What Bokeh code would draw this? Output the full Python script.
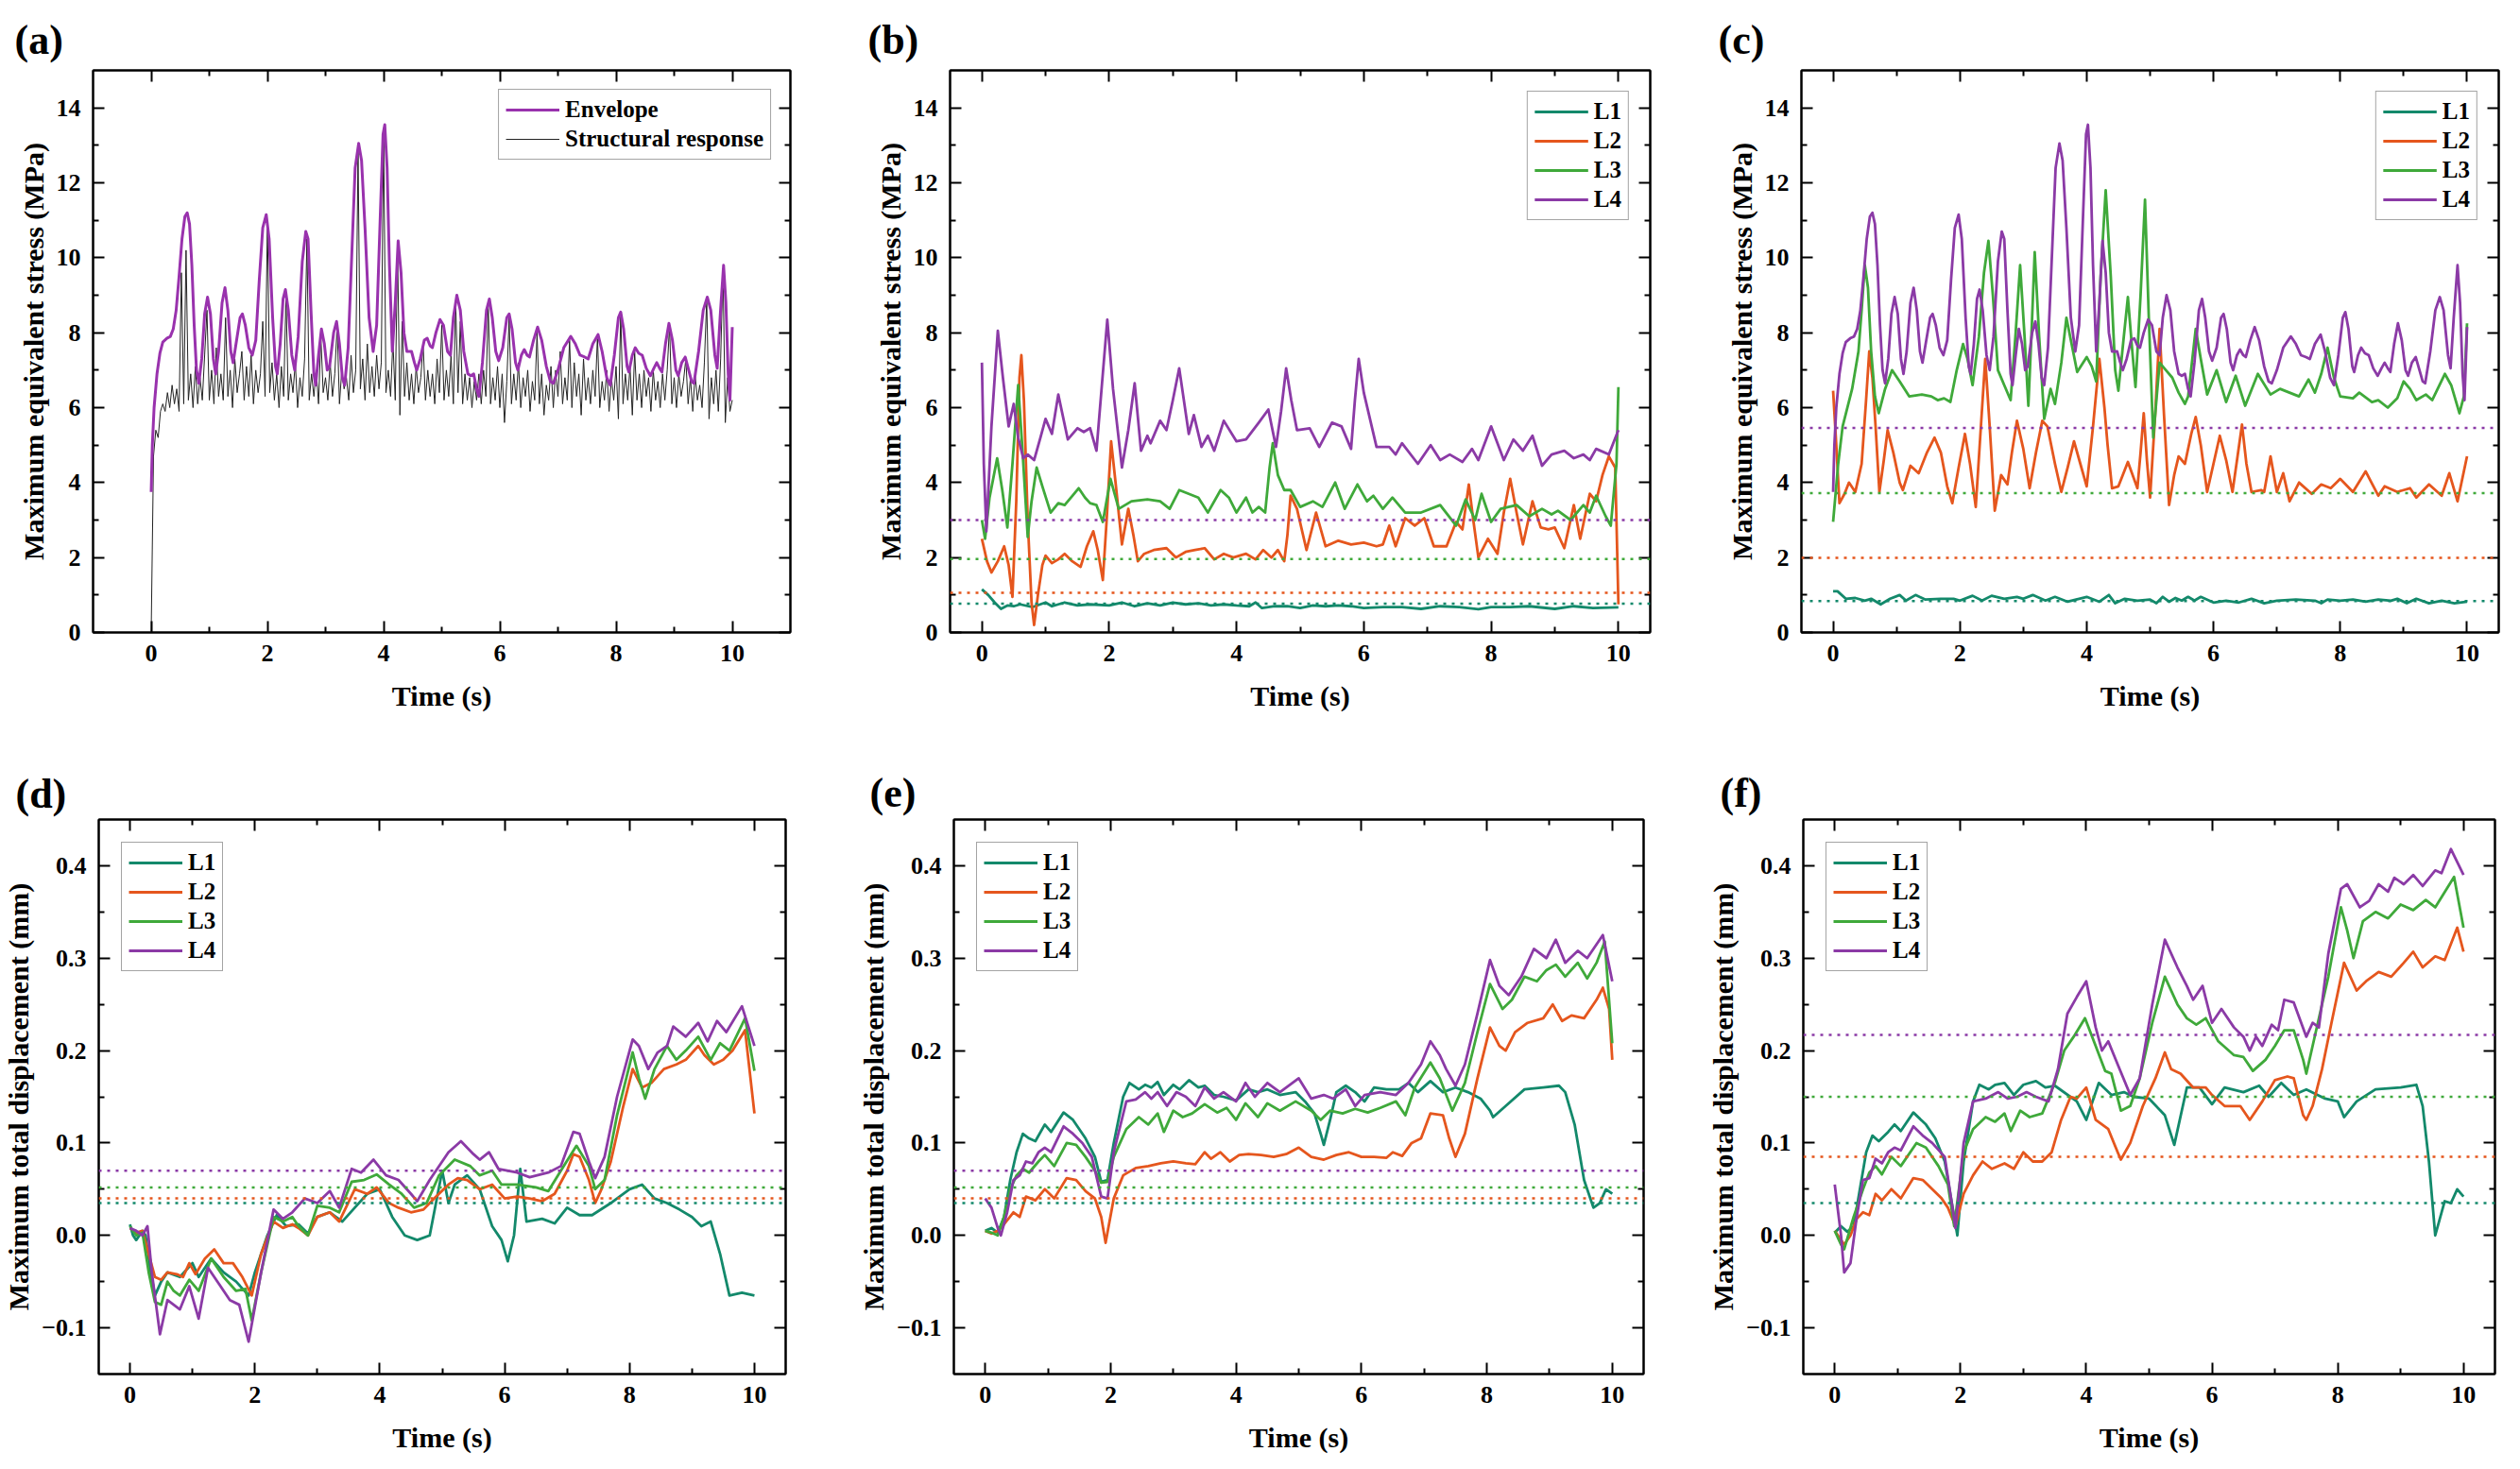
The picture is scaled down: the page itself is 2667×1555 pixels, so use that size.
from bokeh.plotting import figure
from bokeh.models import (Range1d, LinearAxis, FixedTicker, Legend, LegendItem,
                          Title, Span, CustomJSTickFormatter)
from bokeh.layouts import column, row
from bokeh.embed import file_html
from bokeh.resources import INLINE

FONT = "Liberation Serif"
C1, C2, C3, C4 = "#13896b", "#e5561d", "#3fa93a", "#8b3aa6"
ENV_C = "#9932ad"

# ---------------- data ----------------
time_major = [0, 2, 4, 6, 8, 10]
time_minor = [1, 3, 5, 7, 9]
stress_major = [0, 2, 4, 6, 8, 10, 12, 14]
stress_minor = [1, 3, 5, 7, 9, 11, 13]
disp_major = [-0.1, 0.0, 0.1, 0.2, 0.3, 0.4]
disp_minor = [-0.05, 0.05, 0.15, 0.25, 0.35]

# (a) structural response, sampled every 0.04 s from t = 0
struct_dt = 0.04
struct_v = [0.0, 4.7, 5.4, 5.2, 5.9, 6.1, 5.9, 6.4, 6.0, 6.6, 6.1, 6.5, 5.9, 9.6, 6.1, 10.2, 6.2, 6.9, 6.0, 7.1, 6.1, 6.8, 6.2, 7.4, 8.6,
            6.2, 7.0, 6.1, 7.6, 6.3, 6.9, 6.2, 8.4, 6.3, 7.0, 6.0, 7.3, 6.4, 6.9, 7.5, 6.2, 7.1, 6.3, 7.4, 6.1, 7.0, 6.4, 6.9, 8.3, 6.3,
            11.0, 6.4, 7.2, 6.2, 6.9, 6.0, 7.1, 6.3, 9.0, 6.2, 6.9, 6.4, 7.2, 6.0, 6.8, 6.3, 7.3, 10.5, 6.2, 6.9, 6.3, 7.0, 6.1, 7.9, 6.4,
            6.8, 6.2, 7.2, 6.3, 6.9, 8.2, 6.1, 7.0, 6.5, 6.8, 6.2, 7.4, 6.4, 7.0, 12.9, 6.5, 7.3, 6.2, 7.7, 6.4, 7.1, 6.3, 7.4, 6.5, 7.2,
            13.4, 6.4, 7.0, 6.3, 7.8, 6.2, 10.3, 5.8, 8.3, 6.3, 7.2, 6.2, 6.9, 6.1, 7.1, 6.4, 6.8, 7.7, 6.2, 7.0, 6.3, 6.9, 6.1, 7.3, 6.4,
            8.2, 6.2, 7.0, 6.3, 7.4, 6.1, 8.8, 6.4, 8.3, 6.1, 6.9, 6.2, 6.8, 6.0, 6.7, 6.2, 6.9, 6.1, 7.0, 6.3, 8.8, 6.1, 6.8, 6.2, 7.1,
            6.0, 6.9, 5.6, 6.7, 8.4, 6.1, 6.9, 6.2, 7.2, 6.0, 6.8, 6.3, 7.0, 5.9, 6.7, 6.2, 8.0, 6.1, 6.9, 5.8, 6.6, 6.2, 7.1, 6.0, 7.0,
            6.3, 7.5, 6.1, 6.8, 6.2, 7.8, 6.0, 7.2, 6.3, 6.9, 5.8, 7.3, 6.2, 6.8, 6.1, 7.0, 6.3, 7.9, 6.0, 6.7, 6.2, 7.0, 5.9, 6.8, 6.2,
            7.1, 5.7, 8.5, 6.1, 6.9, 6.2, 7.1, 5.8, 7.5, 6.2, 6.9, 6.0, 7.0, 6.3, 6.8, 5.9, 7.0, 6.2, 6.7, 6.0, 6.9, 6.2, 7.0, 8.2, 6.1,
            6.8, 6.0, 6.9, 6.3, 6.7, 7.3, 6.1, 6.8, 5.9, 6.9, 6.2, 6.6, 6.0, 7.2, 8.9, 5.7, 6.8, 6.1, 7.0, 5.9, 7.3, 9.7, 5.6, 6.8, 5.9,
            6.2]

envelope = [(0.0, 3.75), (0.02, 5.0), (0.05, 6.0), (0.1, 6.9), (0.15, 7.45), (0.2, 7.75), (0.27, 7.85), (0.33, 7.9), (0.38, 8.1),
            (0.43, 8.6), (0.48, 9.5), (0.53, 10.5), (0.58, 11.1), (0.62, 11.2), (0.66, 10.9), (0.7, 9.8), (0.74, 8.2), (0.78, 7.0),
            (0.82, 6.65), (0.87, 7.3), (0.92, 8.5), (0.97, 8.95), (1.02, 8.5), (1.07, 7.3), (1.11, 6.9), (1.16, 7.5), (1.22, 8.8),
            (1.27, 9.2), (1.32, 8.6), (1.37, 7.5), (1.41, 7.2), (1.47, 7.8), (1.53, 8.4), (1.57, 8.5), (1.62, 8.2), (1.68, 7.6),
            (1.74, 7.4), (1.8, 7.8), (1.86, 9.4), (1.92, 10.8), (1.98, 11.15), (2.03, 10.5), (2.09, 8.4), (2.14, 7.1), (2.17, 6.9),
            (2.22, 7.7), (2.27, 8.9), (2.31, 9.15), (2.36, 8.6), (2.42, 7.4), (2.47, 7.0), (2.53, 7.9), (2.6, 9.9), (2.66, 10.7),
            (2.7, 10.5), (2.75, 8.6), (2.8, 6.9), (2.83, 6.6), (2.88, 7.4), (2.93, 8.1), (2.98, 7.7), (3.03, 7.0), (3.07, 7.1),
            (3.14, 8.0), (3.19, 8.3), (3.24, 7.7), (3.29, 6.8), (3.33, 6.6), (3.39, 7.6), (3.45, 10.0), (3.51, 12.4), (3.57, 13.05),
            (3.62, 12.6), (3.68, 10.8), (3.75, 8.4), (3.82, 7.5), (3.88, 8.2), (3.94, 11.0), (3.99, 13.3), (4.02, 13.55), (4.06, 12.4),
            (4.1, 9.8), (4.15, 7.5), (4.2, 8.8), (4.25, 10.45), (4.3, 9.6), (4.35, 8.0), (4.4, 7.5), (4.48, 7.5), (4.53, 7.2),
            (4.57, 7.0), (4.63, 7.3), (4.7, 7.8), (4.75, 7.85), (4.8, 7.65), (4.84, 7.6), (4.9, 8.0), (4.97, 8.35), (5.03, 8.2),
            (5.1, 7.5), (5.15, 7.4), (5.2, 8.4), (5.26, 9.0), (5.32, 8.6), (5.38, 7.5), (5.45, 6.9), (5.5, 6.85), (5.55, 6.9),
            (5.6, 6.5), (5.64, 6.3), (5.7, 7.2), (5.77, 8.6), (5.82, 8.9), (5.87, 8.4), (5.93, 7.5), (5.98, 7.25), (6.05, 7.6),
            (6.12, 8.4), (6.16, 8.5), (6.21, 8.1), (6.27, 7.2), (6.31, 7.0), (6.37, 7.4), (6.42, 7.55), (6.47, 7.4), (6.51, 7.35),
            (6.58, 7.8), (6.65, 8.15), (6.72, 7.8), (6.8, 7.1), (6.87, 6.7), (6.92, 6.65), (7.0, 7.0), (7.1, 7.6), (7.22, 7.9),
            (7.3, 7.7), (7.38, 7.4), (7.46, 7.35), (7.52, 7.3), (7.6, 7.7), (7.69, 7.95), (7.76, 7.5), (7.84, 6.8), (7.9, 6.6),
            (7.97, 7.4), (8.04, 8.4), (8.08, 8.55), (8.13, 8.1), (8.19, 7.1), (8.22, 6.95), (8.28, 7.4), (8.33, 7.6), (8.39, 7.45),
            (8.45, 7.4), (8.52, 7.05), (8.59, 6.85), (8.65, 7.05), (8.7, 7.2), (8.75, 7.05), (8.79, 6.95), (8.85, 7.7), (8.91, 8.25),
            (8.97, 7.8), (9.03, 7.0), (9.07, 6.85), (9.13, 7.2), (9.19, 7.35), (9.25, 7.0), (9.3, 6.7), (9.34, 6.65), (9.42, 7.5),
            (9.5, 8.6), (9.57, 8.95), (9.63, 8.6), (9.7, 7.4), (9.74, 7.05), (9.79, 8.4), (9.85, 9.8), (9.89, 8.8), (9.93, 6.9),
            (9.96, 6.2), (10.0, 8.15)]

# (b) stress
b_L1 = [(0, 1.15), (0.1, 1.0), (0.2, 0.8), (0.3, 0.63), (0.4, 0.72), (0.5, 0.7), (0.6, 0.75), (0.8, 0.68), (1.0, 0.8), (1.1, 0.7),
        (1.3, 0.8), (1.5, 0.72), (1.7, 0.75), (2.0, 0.72), (2.2, 0.8), (2.4, 0.7), (2.6, 0.78), (2.8, 0.72), (3.0, 0.8), (3.2, 0.75),
        (3.4, 0.78), (3.6, 0.72), (3.8, 0.75), (4.0, 0.72), (4.2, 0.7), (4.3, 0.8), (4.4, 0.65), (4.6, 0.7), (4.8, 0.7), (5.0, 0.65),
        (5.2, 0.72), (5.4, 0.7), (5.6, 0.72), (5.8, 0.7), (6.0, 0.65), (6.3, 0.68), (6.6, 0.68), (6.9, 0.63), (7.2, 0.7), (7.5, 0.68),
        (7.8, 0.62), (8.0, 0.68), (8.3, 0.68), (8.6, 0.7), (9.0, 0.63), (9.3, 0.7), (9.6, 0.65), (10.0, 0.67)]
b_L2 = [(0, 2.5), (0.08, 1.9), (0.15, 1.6), (0.25, 1.9), (0.35, 2.3), (0.42, 1.8), (0.48, 0.95), (0.54, 3.5), (0.59, 6.8),
        (0.62, 7.4), (0.66, 6.2), (0.72, 3.0), (0.78, 0.8), (0.82, 0.2), (0.88, 1.0), (0.95, 1.8), (1.0, 2.05), (1.1, 1.85),
        (1.2, 1.95), (1.3, 2.1), (1.42, 1.9), (1.55, 1.75), (1.65, 2.3), (1.75, 2.7), (1.82, 2.2), (1.9, 1.4), (1.96, 3.0),
        (2.03, 5.1), (2.1, 4.0), (2.2, 2.35), (2.3, 3.3), (2.38, 2.6), (2.45, 1.9), (2.55, 2.1), (2.7, 2.2), (2.9, 2.25),
        (3.05, 2.0), (3.2, 2.15), (3.35, 2.2), (3.5, 2.25), (3.65, 1.95), (3.8, 2.1), (3.95, 2.0), (4.15, 2.1), (4.3, 1.95),
        (4.42, 2.2), (4.55, 2.0), (4.65, 2.2), (4.75, 1.9), (4.8, 2.6), (4.85, 3.65), (4.95, 3.3), (5.1, 2.2), (5.25, 3.2),
        (5.4, 2.3), (5.6, 2.45), (5.8, 2.35), (6.0, 2.4), (6.2, 2.3), (6.3, 2.35), (6.4, 2.85), (6.5, 2.3), (6.65, 3.05),
        (6.8, 2.85), (6.95, 3.05), (7.1, 2.3), (7.3, 2.3), (7.45, 2.95), (7.55, 2.75), (7.65, 3.95), (7.72, 3.0), (7.8, 2.0),
        (7.95, 2.5), (8.1, 2.1), (8.2, 3.2), (8.3, 4.1), (8.4, 3.2), (8.5, 2.35), (8.65, 3.5), (8.78, 2.8), (8.9, 2.75),
        (9.0, 2.8), (9.15, 2.25), (9.3, 3.4), (9.4, 2.5), (9.55, 3.7), (9.65, 3.5), (9.75, 4.2), (9.85, 4.7), (9.95, 4.4),
        (10.0, 0.75)]
b_L3 = [(0, 3.0), (0.05, 2.5), (0.12, 3.6), (0.24, 4.65), (0.32, 3.8), (0.4, 2.8), (0.48, 4.5), (0.57, 6.6), (0.64, 4.8),
        (0.72, 2.55), (0.78, 3.5), (0.86, 4.4), (0.95, 3.9), (1.08, 3.2), (1.2, 3.45), (1.3, 3.4), (1.4, 3.6), (1.52, 3.85),
        (1.62, 3.6), (1.7, 3.45), (1.8, 3.4), (1.9, 2.95), (2.02, 4.1), (2.15, 3.3), (2.35, 3.5), (2.6, 3.55), (2.8, 3.5),
        (2.95, 3.3), (3.1, 3.8), (3.25, 3.7), (3.4, 3.6), (3.55, 3.2), (3.75, 3.8), (3.88, 3.6), (4.0, 3.2), (4.15, 3.6),
        (4.25, 3.2), (4.35, 3.35), (4.45, 3.2), (4.52, 4.4), (4.57, 5.05), (4.65, 4.2), (4.75, 3.8), (4.85, 3.8), (5.0, 3.35),
        (5.2, 3.5), (5.35, 3.35), (5.55, 4.0), (5.7, 3.3), (5.9, 3.95), (6.05, 3.5), (6.15, 3.65), (6.3, 3.3), (6.45, 3.6),
        (6.65, 3.2), (6.9, 3.2), (7.2, 3.4), (7.45, 2.85), (7.6, 3.55), (7.75, 3.0), (7.85, 3.7), (8.0, 2.95), (8.15, 3.3),
        (8.4, 3.4), (8.6, 3.1), (8.8, 3.3), (8.95, 3.15), (9.05, 3.25), (9.25, 3.0), (9.45, 3.4), (9.55, 3.2), (9.65, 3.65),
        (9.8, 3.1), (9.88, 2.85), (9.97, 4.5), (10.0, 6.55)]
b_L4 = [(0, 7.2), (0.03, 4.5), (0.07, 2.7), (0.15, 5.5), (0.25, 8.05), (0.33, 6.8), (0.42, 5.5), (0.5, 6.1), (0.57, 5.2),
        (0.65, 4.65), (0.72, 4.75), (0.82, 4.6), (0.92, 5.2), (1.0, 5.7), (1.1, 5.3), (1.2, 6.35), (1.35, 5.15), (1.5, 5.45),
        (1.6, 5.35), (1.7, 5.45), (1.8, 4.85), (1.88, 6.5), (1.97, 8.35), (2.06, 6.5), (2.2, 4.4), (2.3, 5.4), (2.4, 6.65),
        (2.5, 4.85), (2.6, 5.25), (2.65, 5.05), (2.8, 5.65), (2.9, 5.4), (3.0, 6.2), (3.1, 7.05), (3.25, 5.3), (3.33, 5.8),
        (3.45, 4.95), (3.55, 5.25), (3.65, 4.85), (3.8, 5.65), (4.0, 5.1), (4.15, 5.15), (4.35, 5.6), (4.5, 5.95), (4.62, 4.95),
        (4.7, 5.9), (4.78, 7.05), (4.86, 6.2), (4.95, 5.4), (5.15, 5.45), (5.3, 4.95), (5.5, 5.6), (5.65, 5.5), (5.8, 4.9),
        (5.86, 6.2), (5.92, 7.3), (6.0, 6.4), (6.2, 4.95), (6.4, 4.95), (6.5, 4.75), (6.6, 5.05), (6.85, 4.5), (7.05, 5.0),
        (7.2, 4.6), (7.35, 4.75), (7.55, 4.55), (7.7, 4.9), (7.8, 4.6), (8.0, 5.5), (8.2, 4.6), (8.35, 5.15), (8.5, 4.85),
        (8.65, 5.25), (8.8, 4.45), (8.95, 4.75), (9.15, 4.85), (9.3, 4.65), (9.45, 4.75), (9.55, 4.6), (9.65, 4.9), (9.85, 4.75),
        (10.0, 5.4)]
b_ref = [0.77, 1.06, 1.96, 3.0]

# (c) stress
c_L1 = [(0, 1.1), (0.07, 1.1), (0.2, 0.9), (0.35, 0.92), (0.5, 0.85), (0.6, 0.9), (0.75, 0.75), (0.9, 0.9), (1.05, 1.0),
        (1.15, 0.85), (1.3, 1.0), (1.45, 0.88), (1.7, 0.9), (1.9, 0.9), (2.0, 0.85), (2.2, 0.98), (2.35, 0.85), (2.5, 0.98),
        (2.7, 0.9), (2.9, 0.95), (3.0, 0.9), (3.15, 1.0), (3.35, 0.85), (3.5, 0.95), (3.7, 0.82), (4.0, 0.95), (4.2, 0.82),
        (4.35, 1.0), (4.45, 0.78), (4.6, 0.9), (4.8, 0.85), (5.0, 0.88), (5.1, 0.78), (5.2, 0.95), (5.3, 0.82), (5.4, 0.92),
        (5.5, 0.85), (5.6, 0.95), (5.7, 0.85), (5.8, 0.95), (6.0, 0.8), (6.2, 0.85), (6.4, 0.8), (6.6, 0.9), (6.8, 0.78),
        (7.0, 0.85), (7.3, 0.88), (7.6, 0.85), (7.7, 0.78), (7.8, 0.88), (8.0, 0.85), (8.2, 0.88), (8.4, 0.82), (8.6, 0.88),
        (8.8, 0.85), (8.9, 0.9), (9.05, 0.78), (9.2, 0.9), (9.4, 0.78), (9.6, 0.85), (9.8, 0.78), (10.0, 0.82)]
c_L2 = [(0, 6.45), (0.05, 5.0), (0.1, 3.45), (0.18, 3.7), (0.25, 4.0), (0.35, 3.75), (0.45, 4.5), (0.52, 6.2), (0.57, 7.5),
        (0.62, 6.8), (0.67, 5.5), (0.73, 3.75), (0.8, 4.6), (0.86, 5.4), (0.95, 4.8), (1.05, 4.0), (1.1, 3.8), (1.22, 4.45),
        (1.35, 4.25), (1.48, 4.8), (1.6, 5.2), (1.7, 4.8), (1.8, 3.9), (1.88, 3.45), (1.98, 4.4), (2.08, 5.3), (2.16, 4.5),
        (2.25, 3.35), (2.32, 5.2), (2.4, 7.3), (2.47, 5.5), (2.55, 3.25), (2.65, 4.2), (2.75, 3.95), (2.82, 4.8), (2.9, 5.65),
        (3.0, 4.9), (3.1, 3.85), (3.2, 4.8), (3.3, 5.65), (3.38, 5.5), (3.5, 4.5), (3.6, 3.75), (3.7, 4.4), (3.8, 5.1),
        (3.9, 4.5), (4.0, 3.9), (4.1, 5.5), (4.2, 7.3), (4.28, 6.0), (4.33, 5.0), (4.4, 3.85), (4.5, 3.9), (4.65, 4.55),
        (4.8, 3.85), (4.85, 4.8), (4.9, 5.85), (4.95, 4.6), (5.0, 3.6), (5.08, 5.8), (5.15, 8.1), (5.22, 5.8), (5.3, 3.4),
        (5.38, 4.2), (5.45, 4.7), (5.55, 4.5), (5.65, 5.3), (5.72, 5.75), (5.8, 5.0), (5.9, 3.75), (6.0, 4.5), (6.1, 5.25),
        (6.2, 4.6), (6.3, 3.75), (6.38, 4.7), (6.45, 5.55), (6.52, 4.5), (6.6, 3.75), (6.75, 3.8), (6.8, 3.75), (6.9, 4.7),
        (7.0, 3.75), (7.1, 4.25), (7.2, 3.5), (7.35, 4.0), (7.55, 3.7), (7.7, 3.95), (7.85, 3.85), (8.0, 4.1), (8.2, 3.75),
        (8.4, 4.3), (8.6, 3.65), (8.7, 3.9), (8.9, 3.75), (9.0, 3.8), (9.1, 3.85), (9.2, 3.6), (9.4, 3.95), (9.6, 3.65),
        (9.72, 4.25), (9.85, 3.5), (10.0, 4.7)]
c_L3 = [(0, 2.95), (0.08, 4.5), (0.15, 5.5), (0.3, 6.5), (0.4, 7.5), (0.45, 8.6), (0.5, 9.8), (0.55, 9.2), (0.6, 7.5),
        (0.66, 6.3), (0.72, 5.85), (0.82, 6.5), (0.93, 7.0), (1.05, 6.7), (1.2, 6.3), (1.4, 6.35), (1.55, 6.3), (1.65, 6.2),
        (1.75, 6.25), (1.85, 6.15), (1.95, 7.0), (2.05, 7.7), (2.12, 7.3), (2.2, 6.6), (2.3, 7.9), (2.38, 9.6), (2.45, 10.45),
        (2.52, 9.0), (2.6, 7.0), (2.7, 6.6), (2.8, 6.2), (2.88, 8.0), (2.95, 9.8), (3.02, 7.9), (3.08, 6.05), (3.13, 8.0),
        (3.18, 10.15), (3.25, 7.9), (3.33, 5.7), (3.43, 6.5), (3.5, 6.1), (3.6, 7.2), (3.68, 8.4), (3.75, 7.8), (3.85, 6.95),
        (4.0, 7.35), (4.08, 7.1), (4.15, 6.7), (4.22, 9.5), (4.3, 11.8), (4.38, 9.5), (4.45, 7.0), (4.5, 6.45), (4.58, 7.8),
        (4.65, 8.95), (4.72, 7.5), (4.77, 6.55), (4.85, 9.0), (4.92, 11.55), (4.98, 8.4), (5.05, 5.2), (5.1, 6.2), (5.15, 7.2),
        (5.25, 7.0), (5.35, 6.8), (5.45, 6.4), (5.55, 6.1), (5.6, 6.3), (5.66, 7.2), (5.72, 8.1), (5.8, 7.3), (5.9, 6.35),
        (6.05, 7.0), (6.2, 6.15), (6.35, 6.85), (6.5, 6.05), (6.7, 6.9), (6.9, 6.35), (7.05, 6.5), (7.35, 6.3), (7.5, 6.75),
        (7.6, 6.4), (7.7, 6.9), (7.8, 7.6), (7.9, 6.8), (8.0, 6.3), (8.2, 6.25), (8.3, 6.4), (8.5, 6.15), (8.6, 6.2),
        (8.75, 6.0), (8.9, 6.25), (9.0, 6.7), (9.1, 6.5), (9.2, 6.2), (9.35, 6.35), (9.45, 6.2), (9.65, 6.9), (9.75, 6.6),
        (9.88, 5.85), (9.95, 6.3), (10.0, 8.25)]
c_L4 = envelope
c_ref = [0.84, 1.99, 3.72, 5.46]

# (d) displacement
d_L1 = [(0, 0.012), (0.05, 0.0), (0.1, -0.005), (0.2, 0.005), (0.25, 0.0), (0.32, -0.035), (0.4, -0.065), (0.5, -0.05),
        (0.6, -0.04), (0.8, -0.045), (1.0, -0.03), (1.1, -0.045), (1.3, -0.025), (1.5, -0.04), (1.7, -0.05), (1.9, -0.065),
        (2.0, -0.04), (2.2, 0.0), (2.35, 0.022), (2.5, 0.01), (2.7, 0.012), (2.85, 0.002), (3.0, 0.02), (3.2, 0.025),
        (3.4, 0.015), (3.6, 0.03), (3.8, 0.045), (4.0, 0.05), (4.2, 0.02), (4.4, 0.0), (4.6, -0.005), (4.8, 0.0), (4.9, 0.035),
        (5.0, 0.07), (5.1, 0.035), (5.2, 0.055), (5.4, 0.065), (5.6, 0.05), (5.8, 0.01), (5.95, -0.005), (6.05, -0.028),
        (6.15, 0.0), (6.25, 0.072), (6.35, 0.015), (6.6, 0.018), (6.8, 0.013), (7.0, 0.03), (7.2, 0.022), (7.4, 0.022),
        (7.7, 0.035), (8.0, 0.05), (8.2, 0.055), (8.4, 0.04), (8.6, 0.035), (8.8, 0.028), (9.0, 0.02), (9.15, 0.01),
        (9.3, 0.015), (9.45, -0.02), (9.6, -0.065), (9.8, -0.062), (10.0, -0.065)]
d_L2 = [(0, 0.008), (0.1, 0.003), (0.2, 0.005), (0.3, -0.02), (0.4, -0.045), (0.5, -0.048), (0.6, -0.04), (0.75, -0.042),
        (0.85, -0.045), (0.95, -0.03), (1.05, -0.042), (1.2, -0.025), (1.35, -0.015), (1.5, -0.03), (1.65, -0.03),
        (1.8, -0.045), (1.95, -0.065), (2.1, -0.02), (2.3, 0.015), (2.45, 0.008), (2.6, 0.012), (2.7, 0.008), (2.85, 0.0),
        (3.0, 0.02), (3.2, 0.025), (3.35, 0.015), (3.6, 0.05), (3.8, 0.045), (3.95, 0.052), (4.15, 0.035), (4.3, 0.03),
        (4.5, 0.025), (4.7, 0.028), (4.9, 0.042), (5.1, 0.055), (5.25, 0.062), (5.4, 0.06), (5.6, 0.05), (5.8, 0.055),
        (6.0, 0.04), (6.2, 0.042), (6.4, 0.04), (6.6, 0.037), (6.8, 0.045), (7.0, 0.07), (7.1, 0.088), (7.2, 0.085),
        (7.35, 0.06), (7.45, 0.035), (7.55, 0.05), (7.7, 0.08), (7.9, 0.14), (8.05, 0.18), (8.2, 0.16), (8.35, 0.165),
        (8.55, 0.18), (8.75, 0.185), (8.9, 0.19), (9.1, 0.205), (9.2, 0.195), (9.35, 0.185), (9.5, 0.19), (9.65, 0.2),
        (9.85, 0.222), (10.0, 0.132)]
d_L3 = [(0, 0.01), (0.1, 0.0), (0.2, 0.003), (0.3, -0.04), (0.4, -0.072), (0.5, -0.075), (0.6, -0.05), (0.7, -0.06),
        (0.8, -0.065), (0.95, -0.048), (1.1, -0.06), (1.3, -0.025), (1.5, -0.045), (1.7, -0.06), (1.85, -0.058), (1.95, -0.092),
        (2.1, -0.04), (2.3, 0.02), (2.45, 0.015), (2.6, 0.02), (2.7, 0.01), (2.85, 0.0), (3.0, 0.032), (3.2, 0.03),
        (3.35, 0.025), (3.55, 0.058), (3.75, 0.06), (3.95, 0.066), (4.15, 0.055), (4.35, 0.045), (4.55, 0.03), (4.75, 0.035),
        (4.95, 0.065), (5.2, 0.082), (5.45, 0.075), (5.6, 0.065), (5.8, 0.07), (5.95, 0.055), (6.2, 0.055), (6.5, 0.052),
        (6.7, 0.048), (6.9, 0.07), (7.15, 0.097), (7.35, 0.075), (7.45, 0.05), (7.6, 0.06), (7.8, 0.13), (8.05, 0.198),
        (8.15, 0.17), (8.25, 0.148), (8.4, 0.18), (8.6, 0.205), (8.75, 0.19), (8.9, 0.2), (9.1, 0.215), (9.3, 0.19),
        (9.45, 0.208), (9.6, 0.2), (9.85, 0.235), (10.0, 0.178)]
d_L4 = [(0, 0.008), (0.1, 0.005), (0.2, 0.0), (0.28, 0.01), (0.35, -0.04), (0.48, -0.107), (0.6, -0.07), (0.7, -0.075),
        (0.8, -0.08), (0.95, -0.055), (1.1, -0.09), (1.25, -0.035), (1.45, -0.055), (1.6, -0.07), (1.75, -0.075), (1.9, -0.115),
        (2.1, -0.04), (2.3, 0.028), (2.45, 0.018), (2.6, 0.025), (2.8, 0.04), (3.0, 0.035), (3.2, 0.048), (3.35, 0.03),
        (3.55, 0.072), (3.7, 0.068), (3.9, 0.082), (4.1, 0.065), (4.3, 0.06), (4.5, 0.045), (4.6, 0.037), (4.8, 0.06),
        (5.1, 0.09), (5.3, 0.102), (5.5, 0.088), (5.6, 0.082), (5.75, 0.09), (5.9, 0.072), (6.2, 0.068), (6.4, 0.063),
        (6.7, 0.068), (6.9, 0.075), (7.1, 0.112), (7.2, 0.11), (7.35, 0.08), (7.45, 0.062), (7.6, 0.085), (7.8, 0.15),
        (8.05, 0.212), (8.15, 0.205), (8.3, 0.18), (8.45, 0.198), (8.6, 0.205), (8.7, 0.226), (8.9, 0.215), (9.1, 0.23),
        (9.25, 0.21), (9.4, 0.232), (9.55, 0.22), (9.8, 0.248), (10.0, 0.205)]
d_ref = [0.035, 0.040, 0.052, 0.070]

# (e) displacement
e_L1 = [(0, 0.005), (0.1, 0.008), (0.2, 0.003), (0.3, 0.02), (0.4, 0.06), (0.5, 0.09), (0.6, 0.11), (0.7, 0.105), (0.8, 0.102),
        (0.95, 0.12), (1.05, 0.112), (1.25, 0.133), (1.4, 0.125), (1.6, 0.105), (1.75, 0.085), (1.85, 0.058), (1.95, 0.06),
        (2.05, 0.1), (2.2, 0.15), (2.3, 0.165), (2.45, 0.158), (2.55, 0.163), (2.65, 0.16), (2.75, 0.166), (2.85, 0.152),
        (3.0, 0.163), (3.1, 0.158), (3.25, 0.168), (3.4, 0.16), (3.5, 0.162), (3.65, 0.152), (3.8, 0.15), (4.0, 0.146),
        (4.2, 0.158), (4.35, 0.155), (4.5, 0.158), (4.7, 0.152), (4.95, 0.155), (5.1, 0.145), (5.25, 0.132), (5.35, 0.11),
        (5.4, 0.098), (5.5, 0.125), (5.6, 0.155), (5.75, 0.162), (5.9, 0.155), (6.05, 0.145), (6.2, 0.16), (6.4, 0.158),
        (6.6, 0.158), (6.75, 0.165), (6.9, 0.155), (7.1, 0.167), (7.3, 0.155), (7.5, 0.16), (7.7, 0.155), (7.9, 0.148),
        (8.05, 0.135), (8.1, 0.128), (8.3, 0.14), (8.6, 0.158), (8.9, 0.16), (9.15, 0.162), (9.25, 0.155), (9.4, 0.12),
        (9.55, 0.06), (9.7, 0.03), (9.8, 0.035), (9.9, 0.05), (10.0, 0.045)]
e_L2 = [(0, 0.005), (0.1, 0.002), (0.2, 0.005), (0.3, 0.012), (0.45, 0.025), (0.55, 0.02), (0.65, 0.042), (0.8, 0.038),
        (0.95, 0.05), (1.1, 0.04), (1.3, 0.062), (1.45, 0.06), (1.6, 0.048), (1.75, 0.04), (1.85, 0.02), (1.92, -0.008),
        (2.05, 0.04), (2.2, 0.065), (2.4, 0.073), (2.6, 0.075), (2.8, 0.078), (3.0, 0.08), (3.2, 0.078), (3.35, 0.077),
        (3.5, 0.09), (3.6, 0.083), (3.75, 0.09), (3.9, 0.08), (4.05, 0.087), (4.2, 0.088), (4.4, 0.087), (4.6, 0.085),
        (4.8, 0.088), (5.0, 0.095), (5.2, 0.085), (5.4, 0.082), (5.6, 0.087), (5.8, 0.09), (6.0, 0.085), (6.2, 0.085),
        (6.4, 0.084), (6.5, 0.09), (6.65, 0.086), (6.8, 0.1), (6.95, 0.105), (7.1, 0.132), (7.3, 0.13), (7.4, 0.105),
        (7.5, 0.085), (7.65, 0.11), (7.85, 0.17), (8.05, 0.225), (8.2, 0.205), (8.3, 0.2), (8.45, 0.22), (8.65, 0.23),
        (8.9, 0.235), (9.05, 0.25), (9.2, 0.232), (9.35, 0.238), (9.55, 0.235), (9.75, 0.255), (9.85, 0.268), (9.95, 0.245),
        (10.0, 0.19)]
e_L3 = [(0, 0.005), (0.1, 0.003), (0.2, 0.0), (0.3, 0.02), (0.4, 0.05), (0.5, 0.065), (0.6, 0.072), (0.7, 0.068), (0.85, 0.08),
        (0.95, 0.087), (1.1, 0.075), (1.3, 0.1), (1.45, 0.098), (1.6, 0.085), (1.75, 0.07), (1.85, 0.057), (1.95, 0.058),
        (2.05, 0.085), (2.25, 0.115), (2.45, 0.128), (2.6, 0.12), (2.75, 0.132), (2.85, 0.112), (3.0, 0.135), (3.15, 0.128),
        (3.3, 0.132), (3.5, 0.142), (3.7, 0.133), (3.85, 0.138), (4.0, 0.125), (4.15, 0.143), (4.35, 0.128), (4.5, 0.143),
        (4.7, 0.135), (4.95, 0.145), (5.2, 0.135), (5.35, 0.125), (5.5, 0.135), (5.7, 0.132), (5.9, 0.137), (6.1, 0.133),
        (6.3, 0.138), (6.55, 0.145), (6.7, 0.13), (6.85, 0.16), (7.1, 0.187), (7.25, 0.17), (7.45, 0.135), (7.65, 0.165),
        (7.85, 0.22), (8.05, 0.272), (8.25, 0.245), (8.4, 0.255), (8.6, 0.28), (8.8, 0.275), (8.95, 0.287), (9.1, 0.293),
        (9.25, 0.28), (9.45, 0.295), (9.6, 0.278), (9.75, 0.295), (9.88, 0.318), (10.0, 0.208)]
e_L4 = [(0, 0.04), (0.1, 0.03), (0.2, 0.008), (0.25, 0.0), (0.35, 0.025), (0.45, 0.06), (0.55, 0.065), (0.65, 0.08),
        (0.75, 0.078), (0.85, 0.09), (0.95, 0.095), (1.05, 0.09), (1.25, 0.118), (1.4, 0.11), (1.55, 0.1), (1.7, 0.085),
        (1.85, 0.042), (1.95, 0.04), (2.05, 0.09), (2.25, 0.145), (2.4, 0.147), (2.55, 0.155), (2.65, 0.148), (2.75, 0.155),
        (2.9, 0.14), (3.05, 0.155), (3.2, 0.15), (3.35, 0.14), (3.5, 0.16), (3.65, 0.148), (3.8, 0.155), (4.0, 0.145),
        (4.15, 0.165), (4.3, 0.15), (4.5, 0.165), (4.7, 0.155), (5.0, 0.17), (5.2, 0.148), (5.4, 0.152), (5.55, 0.148),
        (5.75, 0.158), (5.9, 0.14), (6.05, 0.152), (6.3, 0.155), (6.55, 0.152), (6.75, 0.165), (6.95, 0.185), (7.1, 0.21),
        (7.25, 0.195), (7.35, 0.18), (7.5, 0.162), (7.65, 0.185), (7.85, 0.24), (8.05, 0.298), (8.2, 0.27), (8.35, 0.26),
        (8.55, 0.28), (8.75, 0.31), (8.95, 0.3), (9.1, 0.32), (9.25, 0.295), (9.45, 0.308), (9.6, 0.3), (9.85, 0.325),
        (10.0, 0.275)]
e_ref = [0.035, 0.040, 0.052, 0.070]

# (f) displacement
f_L1 = [(0, 0.003), (0.1, 0.01), (0.2, 0.004), (0.3, 0.01), (0.4, 0.05), (0.5, 0.09), (0.6, 0.108), (0.7, 0.102), (0.85, 0.112),
        (0.95, 0.12), (1.05, 0.113), (1.25, 0.133), (1.45, 0.12), (1.6, 0.105), (1.75, 0.08), (1.85, 0.04), (1.95, 0.0),
        (2.05, 0.08), (2.2, 0.145), (2.3, 0.163), (2.45, 0.158), (2.55, 0.163), (2.7, 0.165), (2.85, 0.152), (3.0, 0.163),
        (3.2, 0.167), (3.35, 0.16), (3.5, 0.162), (3.85, 0.145), (4.0, 0.125), (4.2, 0.165), (4.4, 0.152), (4.6, 0.155),
        (4.75, 0.15), (5.0, 0.148), (5.25, 0.13), (5.4, 0.098), (5.6, 0.16), (5.8, 0.16), (6.0, 0.142), (6.2, 0.16),
        (6.5, 0.155), (6.75, 0.162), (6.9, 0.15), (7.1, 0.165), (7.3, 0.152), (7.5, 0.158), (7.8, 0.148), (8.0, 0.145),
        (8.1, 0.128), (8.3, 0.145), (8.6, 0.158), (9.0, 0.16), (9.25, 0.163), (9.35, 0.14), (9.45, 0.08), (9.55, 0.0),
        (9.7, 0.037), (9.8, 0.035), (9.9, 0.05), (10.0, 0.042)]
f_L2 = [(0, 0.005), (0.1, -0.005), (0.15, -0.01), (0.25, 0.0), (0.35, 0.018), (0.45, 0.025), (0.55, 0.022), (0.65, 0.045),
        (0.75, 0.038), (0.9, 0.05), (1.05, 0.04), (1.25, 0.062), (1.4, 0.06), (1.55, 0.05), (1.7, 0.04), (1.8, 0.03),
        (1.92, 0.01), (2.05, 0.045), (2.2, 0.065), (2.35, 0.08), (2.5, 0.072), (2.7, 0.078), (2.85, 0.072), (3.0, 0.09),
        (3.15, 0.08), (3.3, 0.08), (3.45, 0.09), (3.6, 0.125), (3.75, 0.15), (3.85, 0.148), (4.0, 0.16), (4.15, 0.125),
        (4.35, 0.115), (4.5, 0.09), (4.55, 0.082), (4.7, 0.1), (4.9, 0.14), (5.1, 0.17), (5.25, 0.198), (5.35, 0.18),
        (5.5, 0.175), (5.7, 0.16), (5.9, 0.16), (6.0, 0.152), (6.2, 0.14), (6.45, 0.14), (6.6, 0.125), (6.8, 0.145),
        (7.0, 0.168), (7.2, 0.172), (7.3, 0.17), (7.45, 0.13), (7.5, 0.125), (7.6, 0.14), (7.75, 0.18), (7.9, 0.23),
        (8.1, 0.295), (8.3, 0.265), (8.45, 0.275), (8.65, 0.285), (8.85, 0.28), (9.05, 0.295), (9.2, 0.307), (9.35, 0.29),
        (9.55, 0.302), (9.7, 0.298), (9.9, 0.333), (10.0, 0.307)]
f_L3 = [(0, 0.005), (0.1, -0.01), (0.15, -0.015), (0.3, 0.02), (0.45, 0.05), (0.55, 0.068), (0.65, 0.075), (0.75, 0.066),
        (0.9, 0.085), (1.05, 0.075), (1.3, 0.1), (1.45, 0.095), (1.65, 0.075), (1.8, 0.055), (1.9, 0.01), (2.05, 0.09),
        (2.2, 0.115), (2.4, 0.128), (2.55, 0.123), (2.7, 0.132), (2.8, 0.113), (2.95, 0.135), (3.1, 0.128), (3.3, 0.132),
        (3.5, 0.165), (3.65, 0.2), (3.8, 0.215), (3.98, 0.235), (4.15, 0.205), (4.3, 0.178), (4.4, 0.175), (4.55, 0.135),
        (4.7, 0.14), (4.85, 0.17), (5.05, 0.23), (5.25, 0.28), (5.45, 0.25), (5.6, 0.235), (5.75, 0.228), (5.9, 0.235),
        (6.1, 0.21), (6.35, 0.195), (6.5, 0.193), (6.65, 0.178), (6.85, 0.19), (7.0, 0.205), (7.15, 0.222), (7.3, 0.222),
        (7.45, 0.19), (7.5, 0.175), (7.65, 0.22), (7.85, 0.28), (8.05, 0.355), (8.15, 0.33), (8.25, 0.3), (8.4, 0.34),
        (8.6, 0.35), (8.8, 0.343), (9.0, 0.358), (9.2, 0.352), (9.4, 0.363), (9.55, 0.355), (9.85, 0.388), (10.0, 0.333)]
f_L4 = [(0, 0.055), (0.1, 0.0), (0.15, -0.04), (0.25, -0.03), (0.35, 0.02), (0.45, 0.06), (0.55, 0.062), (0.65, 0.083),
        (0.75, 0.078), (0.85, 0.09), (0.95, 0.095), (1.05, 0.092), (1.25, 0.118), (1.4, 0.108), (1.55, 0.1), (1.75, 0.085),
        (1.85, 0.04), (1.92, 0.008), (2.05, 0.1), (2.2, 0.145), (2.4, 0.148), (2.6, 0.155), (2.75, 0.148), (2.9, 0.15),
        (3.05, 0.155), (3.2, 0.15), (3.4, 0.145), (3.55, 0.18), (3.7, 0.24), (3.85, 0.258), (4.0, 0.275), (4.15, 0.225),
        (4.25, 0.2), (4.35, 0.21), (4.5, 0.185), (4.7, 0.152), (4.85, 0.17), (5.05, 0.25), (5.25, 0.32), (5.45, 0.29),
        (5.6, 0.27), (5.7, 0.255), (5.85, 0.27), (6.0, 0.23), (6.15, 0.245), (6.35, 0.225), (6.5, 0.215), (6.6, 0.2),
        (6.7, 0.215), (6.8, 0.205), (6.95, 0.228), (7.05, 0.222), (7.15, 0.255), (7.3, 0.252), (7.5, 0.215), (7.6, 0.23),
        (7.7, 0.225), (7.85, 0.305), (8.05, 0.375), (8.15, 0.38), (8.35, 0.355), (8.5, 0.362), (8.65, 0.38), (8.8, 0.372),
        (8.9, 0.387), (9.05, 0.38), (9.2, 0.39), (9.35, 0.378), (9.55, 0.395), (9.65, 0.392), (9.8, 0.418), (10.0, 0.39)]
f_ref = [0.035, 0.085, 0.150, 0.217]

series_names = ["L1", "L2", "L3", "L4"]
series_colors = [C1, C2, C3, C4]

STRESS_LABEL = "Maximum equivalent stress (MPa)"
DISP_LABEL = "Maximum total displacement (mm)"
TIME_LABEL = "Time (s)"

disp_fmt_code = "return tick.toFixed(1).replace('-', '\\u2212');"


def unzip(pairs):
    return [a for a, _ in pairs], [b for _, b in pairs]


def style_axis(ax, ticker, labelled, formatter=None):
    ax.ticker = ticker
    ax.axis_line_width = 2
    ax.axis_line_color = "black"
    ax.major_tick_in = 12
    ax.major_tick_out = 0
    ax.minor_tick_in = 6
    ax.minor_tick_out = 0
    ax.major_tick_line_width = 2
    ax.minor_tick_line_width = 2
    ax.major_tick_line_color = "black"
    ax.minor_tick_line_color = "black"
    if labelled:
        ax.major_label_text_font = FONT
        ax.major_label_text_font_style = "bold"
        ax.major_label_text_font_size = "26px"
        ax.major_label_text_color = "black"
        ax.major_label_standoff = 13
        ax.axis_label_text_font = FONT
        ax.axis_label_text_font_style = "bold"
        ax.axis_label_text_font_size = "30px"
        ax.axis_label_text_color = "black"
        if formatter is not None:
            ax.formatter = formatter
    else:
        ax.major_label_text_color = None
        ax.major_label_text_font_size = "1px"
        ax.major_label_standoff = 0
        ax.axis_label = None


def make_panel(tag, w, h, bl, br, bt, bb, xr, kind, tag_dx, tag_standoff):
    if kind == "stress":
        yr = (0, 15)
        yt = FixedTicker(ticks=stress_major, minor_ticks=stress_minor)
        ylab = STRESS_LABEL
        fmt = None
    else:
        yr = (-0.15, 0.45)
        yt = FixedTicker(ticks=disp_major, minor_ticks=disp_minor)
        ylab = DISP_LABEL
        fmt = CustomJSTickFormatter(code=disp_fmt_code)
    xt = FixedTicker(ticks=time_major, minor_ticks=time_minor)
    p = figure(width=w, height=h, x_range=Range1d(*xr), y_range=Range1d(*yr),
               output_backend="svg", toolbar_location=None,
               min_border_left=bl, min_border_right=br, min_border_top=bt, min_border_bottom=bb,
               x_axis_label=TIME_LABEL, y_axis_label=ylab)
    p.grid.visible = False
    p.outline_line_color = "black"
    p.outline_line_width = 2
    p.background_fill_color = "white"
    p.border_fill_color = "white"
    style_axis(p.xaxis[0], xt, True)
    p.xaxis[0].axis_label_standoff = 17
    style_axis(p.yaxis[0], yt, True, fmt)
    p.yaxis[0].axis_label_standoff = 5
    ra = LinearAxis()
    style_axis(ra, FixedTicker(ticks=yt.ticks, minor_ticks=yt.minor_ticks), False)
    p.add_layout(ra, "right")
    ta = LinearAxis()
    style_axis(ta, FixedTicker(ticks=time_major, minor_ticks=time_minor), False)
    p.add_layout(ta, "above")
    p.add_layout(Title(text=tag, align="left", offset=tag_dx, standoff=tag_standoff,
                       text_font=FONT, text_font_style="bold", text_font_size="44px",
                       text_color="black"), "above")
    return p


def style_legend(lg, margin):
    lg.label_text_font = FONT
    lg.label_text_font_style = "bold"
    lg.label_text_font_size = "25px"
    lg.label_text_color = "black"
    lg.glyph_width = 57
    lg.glyph_height = 20
    lg.label_height = 20
    lg.spacing = 3
    lg.padding = 7
    lg.margin = margin
    lg.label_standoff = 6
    lg.border_line_color = "#4a4a4a"
    lg.border_line_width = 1.5
    lg.background_fill_color = "white"
    lg.background_fill_alpha = 1.0


def add_four(p, data, refs, loc, margin):
    for v, c in zip(refs, series_colors):
        p.add_layout(Span(location=v, dimension="width", line_color=c, line_width=2.5, line_dash="3 6"))
    items = []
    for name, pairs, c in zip(series_names, data, series_colors):
        t, v = unzip(pairs)
        r = p.line(t, v, line_color=c, line_width=2.8, line_join="round")
        items.append(LegendItem(label=name, renderers=[r]))
    lg = Legend(items=items, location=loc)
    style_legend(lg, margin)
    p.add_layout(lg)


# ---- (a)
pa = make_panel("(a)", 889, 777, 98, 53, 74, 108, (-1, 11), "stress", -83, 16)
st = [round(i * struct_dt, 2) for i in range(len(struct_v))]
r_s = pa.line(st, struct_v, line_color="#222222", line_width=1)
et, ev = unzip(envelope)
r_e = pa.line(et, ev, line_color=ENV_C, line_width=3, line_join="round")
lga = Legend(items=[LegendItem(label="Envelope", renderers=[r_e]),
                    LegendItem(label="Structural response", renderers=[r_s])], location="top_right")
style_legend(lga, 20)
pa.add_layout(lga)

# ---- (b)
pb = make_panel("(b)", 889, 777, 116, 32, 73, 108, (-0.5, 10.5), "stress", -87, 16)
add_four(pb, [b_L1, b_L2, b_L3, b_L4], b_ref, "top_right", 22)

# ---- (c)
pc = make_panel("(c)", 889, 777, 128, 23, 74, 108, (-0.5, 10.5), "stress", -88, 16)
add_four(pc, [c_L1, c_L2, c_L3, c_L4], c_ref, "top_right", 22)

# ---- (d)
pd = make_panel("(d)", 889, 778, 101, 58, 90, 101, (-0.5, 10.5), "disp", -88, 5)
add_four(pd, [d_L1, d_L2, d_L3, d_L4], d_ref, "top_left", 24)

# ---- (e)
pe = make_panel("(e)", 889, 778, 120, 39, 90, 101, (-0.5, 10.5), "disp", -89, 7)
add_four(pe, [e_L1, e_L2, e_L3, e_L4], e_ref, "top_left", 24)

# ---- (f)
pf = make_panel("(f)", 889, 778, 130, 27, 90, 101, (-0.5, 10.5), "disp", -88, 7)
add_four(pf, [f_L1, f_L2, f_L3, f_L4], f_ref, "top_left", 24)

layout = column(row(pa, pb, pc, spacing=0), row(pd, pe, pf, spacing=0), spacing=0)

open("out.html", "w").write(file_html(layout, INLINE))
